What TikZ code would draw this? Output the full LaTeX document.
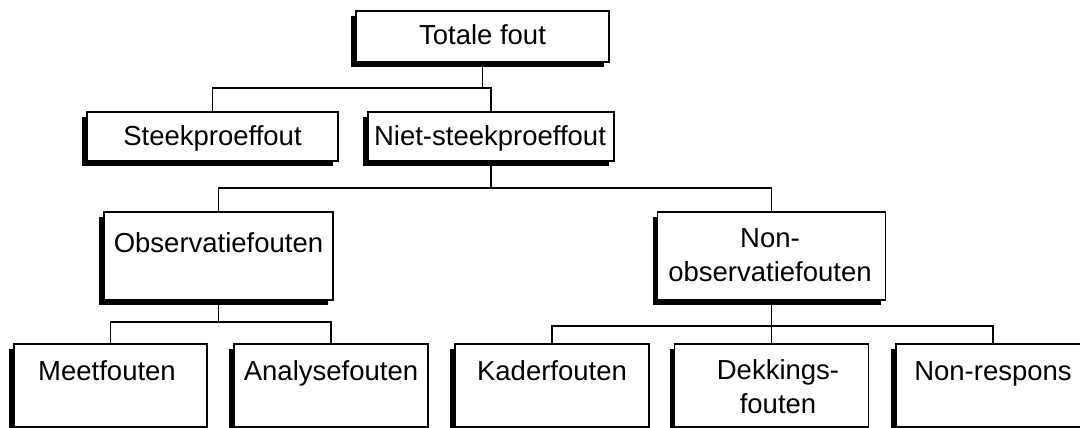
\documentclass[tikz,border=0pt]{standalone}
\usepackage{fontspec}
\setmainfont{Liberation Sans}
\usetikzlibrary{shadows}
\begin{document}
\begin{tikzpicture}[x=1pt,y=-1pt,
  box/.style={draw=black, line width=1.2pt, fill=white, inner sep=0pt, outer sep=0pt,
    drop shadow={shadow xshift=-5pt, shadow yshift=-5pt, fill=black, opacity=1, draw=none}},
  txt/.style={font=\fontsize{27.5}{34}\selectfont, inner sep=0pt, anchor=base, align=center},
  conn/.style={line width=1.4pt}]
\clip (0,0) rectangle (1080,428);
\fill[white] (0,0) rectangle (1080,428);
% boxes
\node[box, minimum width=253pt, minimum height=51pt] (tot) at (482.5,36.5) {};
\node[box, minimum width=251pt, minimum height=49pt] (steek) at (212.5,136.5) {};
\node[box, minimum width=246pt, minimum height=49pt] (niet) at (491,136.5) {};
\node[box, minimum width=229pt, minimum height=88pt] (obs) at (218.5,256) {};
\node[box, minimum width=228pt, minimum height=88pt] (nonobs) at (771.5,256) {};
\node[box, minimum width=193pt, minimum height=83pt] (meet) at (110.5,385.5) {};
\node[box, minimum width=194pt, minimum height=83pt] (anal) at (331,385.5) {};
\node[box, minimum width=194pt, minimum height=83pt] (kader) at (552,385.5) {};
\node[box, minimum width=194pt, minimum height=83pt] (dek) at (771.5,385.5) {};
\node[box, minimum width=194pt, minimum height=83pt] (nonresp) at (993,385.5) {};
% texts
\node[txt] (ttot) at (482.5,45) {Totale fout};
\node[txt] (tsteek) at (212.5,145) {Steekproeffout};
\node[txt] (tniet) at (490,145) {Niet-steekproeffout};
\node[txt] (tobs) at (218.5,252) {Observatiefouten};
\node[txt] (tnonobs) at (770,281) {Non-\\observatiefouten};
\node[txt] (tmeet) at (107,380) {Meetfouten};
\node[txt] (tanal) at (331,380) {Analysefouten};
\node[txt] (tkader) at (552,380) {Kaderfouten};
\node[txt] (tdek) at (778,413) {Dekkings-\\fouten};
\node[txt] (tnonresp) at (993,380) {Non-respons};
% junction levels
\coordinate (j1) at (0,88);
\coordinate (j2) at (0,188);
\coordinate (j3) at (0,322);
\coordinate (j4) at (0,326);
% connectors
\draw[conn] (tot.south) -- (tot.south |- j1);
\draw[conn] (steek.north) -- (steek.north |- j1) -- (niet.north |- j1) -- (niet.north);
\draw[conn] (niet.south) -- (niet.south |- j2);
\draw[conn] (obs.north) -- (obs.north |- j2) -- (nonobs.north |- j2) -- (nonobs.north);
\draw[conn] (obs.south) -- (obs.south |- j3);
\draw[conn] (meet.north) -- (meet.north |- j3) -- (anal.north |- j3) -- (anal.north);
\draw[conn] (nonobs.south) -- (nonobs.south |- j4);
\draw[conn] (kader.north) -- (kader.north |- j4) -- (nonresp.north |- j4) -- (nonresp.north);
\draw[conn] (dek.north) -- (dek.north |- j4);
\end{tikzpicture}
\end{document}
